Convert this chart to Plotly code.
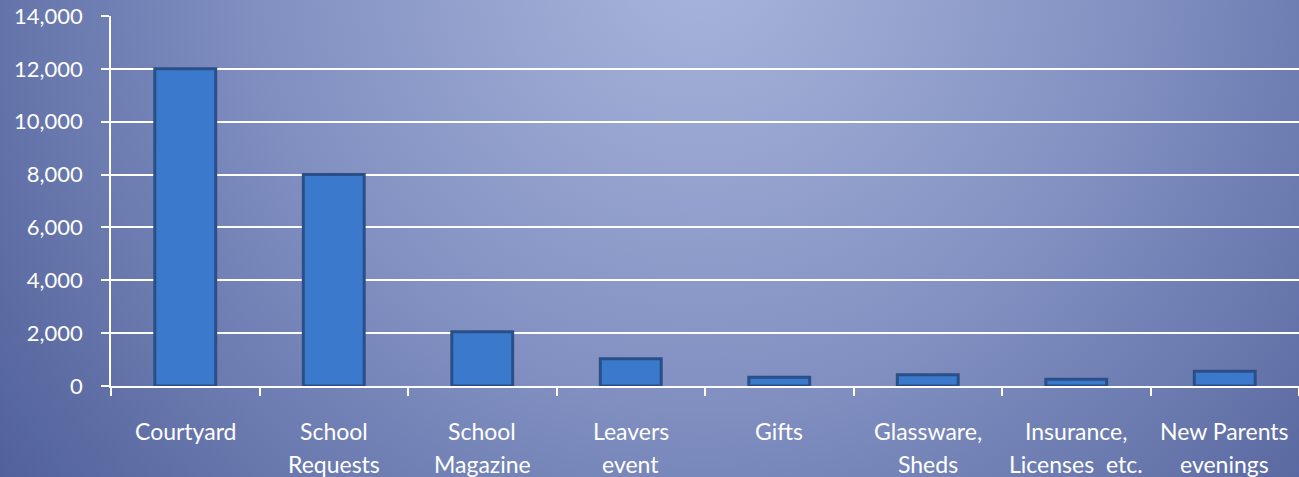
import base64
import plotly.graph_objects as go

# ---- data ----
categories = ["Courtyard", "School Requests", "School Magazine", "Leavers event",
              "Gifts", "Glassware, Sheds", "Insurance, Licenses  etc.", "New Parents evenings"]
label_line1 = ["Courtyard", "School", "School", "Leavers", "Gifts", "Glassware,", "Insurance,", "New Parents"]
label_line2 = ["", "Requests", "Magazine", "event", "", "Sheds", "Licenses&nbsp;&nbsp;etc.", "evenings"]
values = [12000, 8000, 2050, 1030, 330, 430, 260, 560]
y_ticks = [0, 2000, 4000, 6000, 8000, 10000, 12000, 14000]

FONT = "Lato"

# ---- background gradient (SVG) ----
svg = """<svg xmlns='http://www.w3.org/2000/svg' width='1299' height='477' viewBox='0 0 1299 477'>
<defs><radialGradient id='g' cx='700' cy='-40' r='900' gradientUnits='userSpaceOnUse'>
<stop offset='0' stop-color='#a8b5db'/>
<stop offset='0.45' stop-color='#8593c4'/>
<stop offset='0.8' stop-color='#6272a8'/>
<stop offset='1' stop-color='#4e5d97'/>
</radialGradient></defs>
<rect width='1299' height='477' fill='url(#g)'/></svg>"""
bg_src = "data:image/svg+xml;base64," + base64.b64encode(svg.encode()).decode()

fig = go.Figure()
fig.add_trace(go.Bar(
    x=categories, y=values,
    marker=dict(color="#3a79cc", line=dict(color="#2a4f88", width=3)),
    width=0.41,
    hoverinfo="x+y",
))

annotations = []
for c, l1, l2 in zip(categories, label_line1, label_line2):
    annotations.append(dict(x=c, y=-0.122, xref="x", yref="paper", text=l1, showarrow=False,
                            font=dict(family=FONT, size=23, color="white"), yanchor="middle"))
    if l2:
        annotations.append(dict(x=c, y=-0.211, xref="x", yref="paper", text=l2, showarrow=False,
                                font=dict(family=FONT, size=23, color="white"), yanchor="middle"))

fig.update_layout(
    width=1299, height=477,
    margin=dict(l=111, r=0, t=16, b=91),
    paper_bgcolor="#6a79ae",
    plot_bgcolor="rgba(0,0,0,0)",
    images=[dict(source=bg_src, xref="paper", yref="paper", x=-111/1188, y=1 + 16/370,
                 sizex=1299/1188, sizey=477/370, xanchor="left", yanchor="top",
                 sizing="stretch", layer="below")],
    annotations=annotations,
    showlegend=False,
    bargap=0.6,
)
fig.update_xaxes(
    type="category", range=[-0.5, 7.5], showticklabels=False,
    ticks="outside", tickson="boundaries", ticklen=8, tickcolor="white", tickwidth=1.5,
    showline=True, linecolor="white", linewidth=1.5, showgrid=False, fixedrange=True,
)
fig.update_yaxes(
    range=[0, 14000], tickvals=y_ticks, tickformat=",",
    ticks="outside", ticklen=8, tickcolor="white", tickwidth=1.5,
    showline=True, linecolor="white", linewidth=1.5,
    showgrid=True, gridcolor="white", gridwidth=1.5, zeroline=False,
    tickfont=dict(family=FONT, size=22, color="white"), ticklabelstandoff=14,
)

fig.write_html("out.html", config={"displayModeBar": False},
               post_script="document.body.style.margin='0';document.body.style.overflow='hidden';")
